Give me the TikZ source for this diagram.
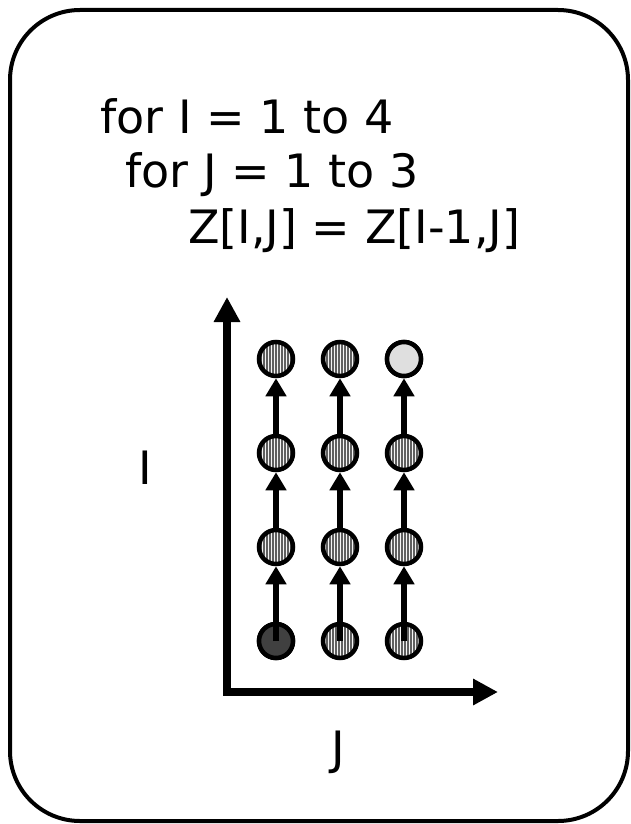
\documentclass[tikz,border=0pt]{standalone}
\usepackage{fontspec}
\setmainfont{DejaVu Sans}
\usetikzlibrary{arrows.meta,patterns.meta}

\tikzset{
  code/.style={font=\fontsize{46}{54}\selectfont, anchor=base west, inner sep=0pt},
  axislabel/.style={font=\fontsize{46}{54}\selectfont, inner sep=0pt},
  iter/.style={circle, draw, line width=4.5pt, minimum size=34pt, inner sep=0pt,
    preaction={fill=gray!8},
    pattern={Lines[angle=90,distance=3pt,line width=1.1pt]}, pattern color=gray!75!black},
  first/.style={circle, draw, line width=4.5pt, minimum size=34pt, inner sep=0pt, fill=black!75},
  last/.style={circle, draw, line width=4.5pt, minimum size=34pt, inner sep=0pt, fill=gray!25},
  dep/.style={line width=5.5pt, -{Triangle[length=18pt,width=20pt]}},
  axis/.style={line width=7.5pt, {Triangle[length=25pt,width=25pt]}-{Triangle[length=25pt,width=25pt]}}
}

\begin{document}
\begin{tikzpicture}[x=1pt,y=-1pt]
\useasboundingbox (0,0) rectangle (630,824);
%%% Rahmen
	\draw[line width=4pt, rounded corners=70pt] (10,10) rectangle (628,821) ;
%%% Schleifen
	\node[code] (loopI) at (100,133) {for I = 1 to 4} ;
	\node[code] (loopJ) at (125,187) {for J = 1 to 3} ;
	\node[code] (stmt) at (188,243) {Z[I,J] = Z[I-1,J]} ;
%%% Iterationsraum
	\foreach \j in {1,2,3}{
		\foreach \i in {1,...,4}{
			\node[iter] (c-\i-\j) at ({276+(\j-1)*64},{641-(\i-1)*94}) {} ;
		}
	}
	\node[first] at (c-1-1) {} ;
	\node[last] at (c-4-3) {} ;
%%% Abhaengigkeiten
	\foreach \j in {1,2,3}{
		\draw[dep] (c-1-\j.center) -- (c-2-\j.south) ;
		\draw[dep] (c-2-\j.north) -- (c-3-\j.south) ;
		\draw[dep] (c-3-\j.north) -- (c-4-\j.south) ;
	}
%%% Achsen
	\coordinate (itop) at (227,297) ;
	\coordinate (origin) at (227,692) ;
	\coordinate (jend) at (498,692) ;
	\draw[axis] (itop) -- (origin) -- (jend) ;
	\node[axislabel] (labI) at (145,468) {I} ;
	\node[axislabel] (labJ) at (338,752) {J} ;
\end{tikzpicture}
\end{document}
